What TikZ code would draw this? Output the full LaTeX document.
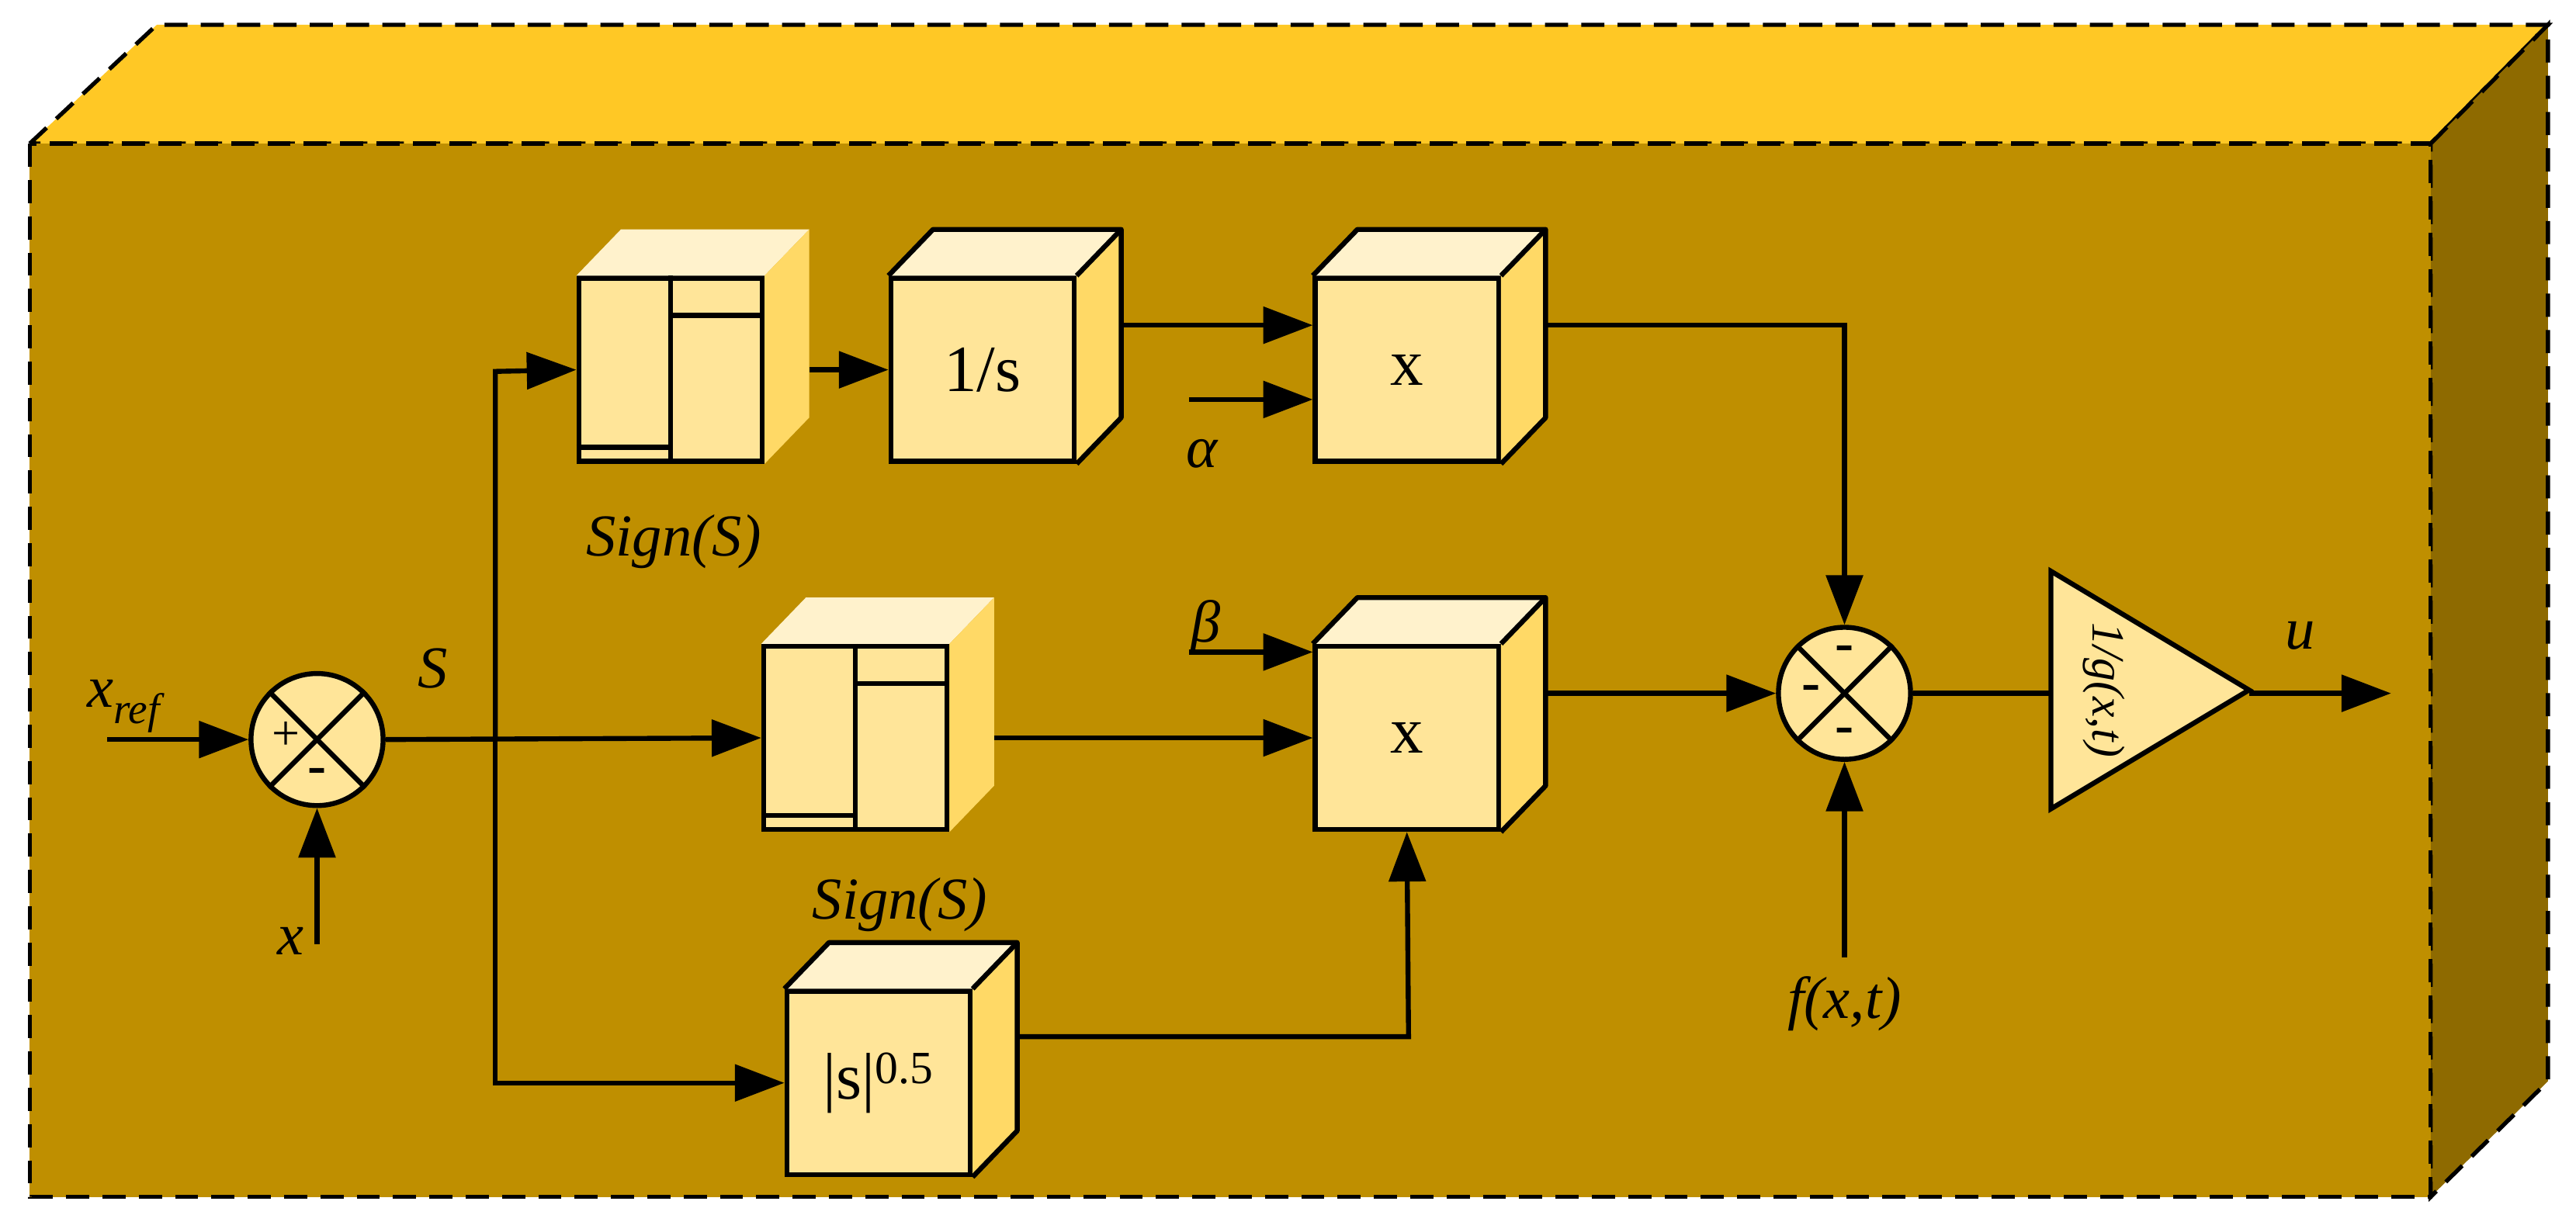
\documentclass[tikz,border=0pt]{standalone}
\usepackage{fontspec}
\setmainfont{Liberation Serif}
\usetikzlibrary{arrows.meta,calc}
\definecolor{topY}{HTML}{FFC825}
\definecolor{frontY}{HTML}{BF8F00}
\definecolor{sideY}{HTML}{8E6A00}
\definecolor{bfront}{HTML}{FFE599}
\definecolor{btop}{HTML}{FFF2CC}
\definecolor{bside}{HTML}{FFD966}
\tikzset{
 lw/.style={line width=3pt},
 box/.style={draw,lw,fill=bfront,minimum width=111pt,minimum height=111pt,inner sep=0pt,font=\fontsize{40}{40}\selectfont},
 arr/.style={lw,-{Triangle[length=30pt,width=22pt]}},
 lab/.style={font=\fontsize{36}{36}\selectfont\itshape},
 sgn/.style={font=\bfseries\fontsize{34}{34}\selectfont},
 sum/.style={draw,lw,circle,fill=bfront,minimum size=80pt,inner sep=0pt},
}
\newcommand\cubefaces[2]{% name, outline
 \fill[btop] (#1.north west) -- ++(27pt,28pt) -- ($(#1.north east)+(27pt,28pt)$) -- (#1.north east) -- cycle;
 \fill[bside] (#1.north east) -- ++(27pt,28pt) -- ($(#1.south east)+(27pt,28pt)$) -- (#1.south east) -- cycle;
 \if1#2
 \draw[lw,line join=round] (#1.north west) -- ++(27pt,28pt) -- ($(#1.north east)+(27pt,28pt)$) -- ($(#1.south east)+(27pt,28pt)$) -- (#1.south east);
 \draw[lw] (#1.north east) -- ++(27pt,28pt);
 \fi}
\begin{document}
\begin{tikzpicture}[x=1pt,y=-1pt]
\useasboundingbox (0,0) rectangle (1560,740);
% outer block
\draw[dashed,line width=2.5pt,fill=topY,dash pattern=on 14pt off 8pt] (18,87) -- (95,15) -- (1543,15) -- (1472,87) -- cycle;
\draw[dashed,line width=2.5pt,fill=sideY,dash pattern=on 14pt off 8pt] (1472,87) -- (1543,15) -- (1543,655) -- (1472,725) -- cycle;
\draw[dashed,line width=2.5pt,fill=frontY,dash pattern=on 14pt off 8pt] (18,87) rectangle (1472,725);
% boxes
\node[box] (sg1) at (406,224) {};
\node[box] (is) at (595,224) {1/s};
\node[box] (m1) at (852,224) {x};
\node[box] (sg2) at (518,447) {};
\node[box] (m2) at (852,447) {x};
\node[box] (ab) at (532,656) {|s|\textsuperscript{0.5}};
\cubefaces{sg1}{0}\cubefaces{is}{1}\cubefaces{m1}{1}
\cubefaces{sg2}{0}\cubefaces{m2}{1}\cubefaces{ab}{1}
% sign internals
\foreach \n in {sg1,sg2}{
 \draw[lw] (\n.north) -- (\n.south);
 \draw[lw] ($(\n.north)+(0,24)$) -- ($(\n.north east)+(0,24)$);
 \draw[lw] ($(\n.south west)+(0,-10)$) -- ($(\n.south)+(0,-10)$);
}
% sums
\node[sum] (s1) at (192,448) {};
\draw[lw] (s1.north west) -- (s1.south east) (s1.north east) -- (s1.south west);
\node[font=\fontsize{30}{30}\selectfont] at (173,446) {+};
\node[sgn] at (192,470) {-};
\node[sum] (s2) at (1117,420) {};
\draw[lw] (s2.north west) -- (s2.south east) (s2.north east) -- (s2.south west);
\node[sgn] at (1117,396) {-};
\node[sgn] at (1097,420) {-};
\node[sgn] at (1117,446) {-};
% gain
\coordinate (gl) at (1242,420);
\draw[lw,fill=bfront] (1242,346) -- (1362,418) -- (1242,490) -- cycle;
\node[font=\fontsize{28}{28}\selectfont\itshape,rotate=-90] at (1274,418) {1/g(x,t)};
\coordinate (gr) at (1362,420);
% labels and free ends
\node[lab] at (75,428) {x\textsubscript{\fontsize{26}{26}\selectfont ref}};
\coordinate (xin) at (65,448);
\node[lab] at (176,570) {x};
\coordinate (xb) at (192,572);
\node[lab] at (262,405) {S};
\node[lab] at (408,328) {Sign(S)};
\node[lab] at (545,548) {Sign(S)};
\node[lab] at (728,275) {α};
\coordinate (al) at (720,242);
\node[lab] at (730,380) {β};
\coordinate (be) at (720,395);
\node[lab] at (1117,608) {f(x,t)};
\coordinate (fx) at (1117,580);
\node[lab] at (1393,385) {u};
\coordinate (uo) at (1448,420);
% connectors
\draw[arr] (xin) -- (s1.west);
\draw[arr] (xb) -- (s1.south);
\draw[arr] (s1.east) -- (sg2.west);
\draw[arr] (300,448) -- (300,225) -- (sg1.west);
\draw[arr] (300,448) -- (300,656) -- (ab.west);
\draw[arr] ($(sg1.east)+(27,0)$) -- (is.west);
\draw[arr] ($(is.east)+(27,-27)$) -- ($(m1.west)+(0,-27)$);
\draw[arr] (al) -- (al -| m1.west);
\draw[arr] (be) -- (be -| m2.west);
\draw[arr] ($(sg2.east)+(27,0)$) -- (m2.west);
\draw[arr] ($(ab.east)+(27,-28)$) -- (853,628) -- (m2.south);
\draw[arr] ($(m1.east)+(27,-27)$) -- (1117,197) -- (s2.north);
\draw[arr] ($(m2.east)+(27,-27)$) -- (s2.west);
\draw[arr] (fx) -- (s2.south);
\draw[lw] (s2.east) -- (gl);
\draw[arr] (gr) -- (uo);
\end{tikzpicture}
\end{document}
